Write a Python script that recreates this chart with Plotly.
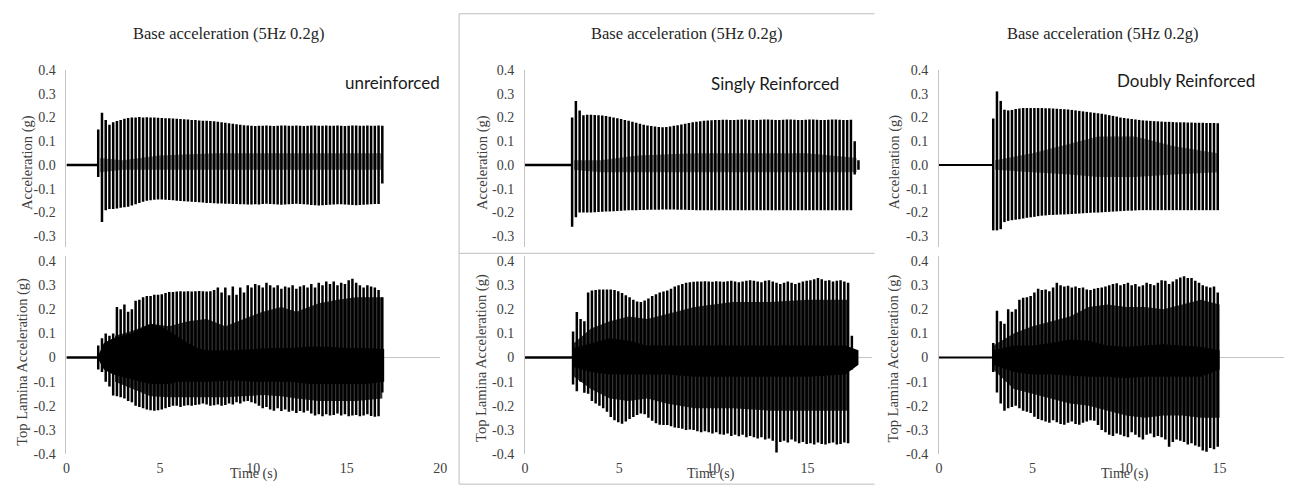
import plotly.graph_objects as go

FIG_W, FIG_H = 1291, 496
FREQ_HZ = 5.0  # shaking frequency: one stroke per loading cycle

# ---------------- Unreinforced ----------------
unr_base_start = 1.7
unr_base_hi = [0.15, 0.22, 0.19, 0.17, 0.18, 0.185, 0.19, 0.195, 0.198, 0.2,
               0.2, 0.202, 0.2, 0.201, 0.2, 0.2, 0.199, 0.198, 0.197, 0.197,
               0.196, 0.195, 0.194, 0.193, 0.192, 0.19, 0.19, 0.188, 0.187, 0.186,
               0.185, 0.184, 0.182, 0.18, 0.178, 0.176, 0.174, 0.172, 0.17, 0.168,
               0.166, 0.165, 0.164, 0.165, 0.165, 0.166, 0.165, 0.164, 0.165, 0.166,
               0.166, 0.165, 0.165, 0.166, 0.165, 0.164, 0.165, 0.166, 0.166, 0.165,
               0.165, 0.166, 0.165, 0.165, 0.166, 0.165, 0.164, 0.165, 0.166, 0.166,
               0.165, 0.165, 0.166, 0.165, 0.165, 0.166, 0.165]
unr_base_lo = [-0.05, -0.24, -0.19, -0.185, -0.185, -0.183, -0.18, -0.178, -0.175, -0.17,
               -0.165, -0.16, -0.155, -0.15, -0.148, -0.146, -0.145, -0.145, -0.146, -0.147,
               -0.148, -0.15, -0.151, -0.152, -0.153, -0.155, -0.156, -0.157, -0.158, -0.16,
               -0.16, -0.161, -0.162, -0.162, -0.163, -0.163, -0.164, -0.164, -0.165, -0.165,
               -0.166, -0.166, -0.165, -0.166, -0.164, -0.163, -0.164, -0.165, -0.166, -0.167,
               -0.166, -0.165, -0.164, -0.163, -0.164, -0.165, -0.166, -0.168, -0.169, -0.17,
               -0.169, -0.168, -0.167, -0.166, -0.165, -0.165, -0.166, -0.167, -0.168, -0.169,
               -0.168, -0.167, -0.166, -0.165, -0.164, -0.164, -0.078]
unr_base_core_t = [1.8, 3.0, 5.0, 8.0, 12.0, 16.9]
unr_base_core_hi = [0.03, 0.02, 0.04, 0.05, 0.05, 0.05]
unr_base_core_lo = [-0.03, -0.02, -0.02, -0.02, -0.02, -0.02]

unr_top_start = 1.7
unr_top_hi = [0.05, 0.08, 0.1, 0.09, 0.1, 0.21, 0.2, 0.22, 0.19, 0.2,
              0.235, 0.24, 0.25, 0.255, 0.255, 0.26, 0.26, 0.262, 0.268, 0.272,
              0.272, 0.274, 0.275, 0.274, 0.275, 0.274, 0.275, 0.276, 0.275, 0.274,
              0.275, 0.28, 0.29, 0.27, 0.29, 0.258, 0.295, 0.26, 0.29, 0.27,
              0.3, 0.29, 0.305, 0.3, 0.29, 0.31, 0.3, 0.29, 0.3, 0.285,
              0.295, 0.29, 0.3, 0.285, 0.295, 0.3, 0.29, 0.305, 0.29, 0.31,
              0.3, 0.315, 0.305, 0.315, 0.3, 0.31, 0.305, 0.32, 0.327, 0.31,
              0.3, 0.29, 0.3, 0.295, 0.29, 0.28, 0.25]
unr_top_lo = [-0.05, -0.06, -0.1, -0.12, -0.157, -0.16, -0.165, -0.17, -0.18, -0.185,
              -0.2, -0.205, -0.21, -0.215, -0.218, -0.22, -0.218, -0.215, -0.21, -0.205,
              -0.2, -0.2, -0.205, -0.2, -0.198, -0.2, -0.197, -0.195, -0.19, -0.195,
              -0.2, -0.198, -0.195, -0.2, -0.197, -0.19, -0.195, -0.185, -0.19, -0.182,
              -0.18, -0.185, -0.19, -0.2, -0.21, -0.205, -0.215, -0.22, -0.21, -0.222,
              -0.215, -0.225, -0.22, -0.23, -0.222, -0.228, -0.22, -0.232, -0.24, -0.235,
              -0.243, -0.235, -0.24, -0.238, -0.232, -0.24, -0.235, -0.243, -0.24, -0.238,
              -0.243, -0.24, -0.235, -0.242, -0.245, -0.243, -0.145]
unr_top_core_t = [1.65, 2.0, 2.5, 3.0, 3.5, 4.0, 4.5, 5.0, 5.5, 6.0, 6.5, 7.0,
                  7.5, 8.0, 9.0, 10.0, 11.0, 12.0, 13.0, 14.0, 15.0, 16.0, 17.0]
unr_top_core_hi = [0.0, 0.06, 0.08, 0.09, 0.1, 0.12, 0.14, 0.13, 0.11, 0.085, 0.06, 0.04,
                   0.03, 0.03, 0.03, 0.035, 0.04, 0.04, 0.045, 0.045, 0.04, 0.04, 0.035]
unr_top_core_lo = [0.0, -0.05, -0.07, -0.08, -0.09, -0.1, -0.11, -0.11, -0.11, -0.1, -0.1, -0.1,
                   -0.1, -0.1, -0.095, -0.1, -0.1, -0.1, -0.11, -0.11, -0.11, -0.11, -0.1]
unr_top_mid_t = [2.6, 3.5, 4.5, 5.5, 6.5, 7.5, 8.5, 9.5, 10.5, 11.5, 12.3, 13.5, 14.5, 15.5, 16.9]
unr_top_mid_hi = [0.09, 0.11, 0.14, 0.13, 0.15, 0.16, 0.13, 0.16, 0.19, 0.21, 0.19, 0.225, 0.24, 0.25, 0.25]
unr_top_mid_lo = [-0.1, -0.13, -0.16, -0.165, -0.165, -0.165, -0.165, -0.16, -0.155, -0.16,
                  -0.17, -0.18, -0.18, -0.18, -0.17]

# ---------------- Singly reinforced ----------------
sgl_base_start = 2.5
sgl_base_hi = [0.2, 0.27, 0.23, 0.21, 0.212, 0.212, 0.211, 0.21, 0.209, 0.206,
               0.203, 0.2, 0.197, 0.194, 0.19, 0.186, 0.182, 0.178, 0.174, 0.17,
               0.167, 0.164, 0.162, 0.16, 0.159, 0.16, 0.162, 0.165, 0.168, 0.171,
               0.174, 0.177, 0.18, 0.182, 0.184, 0.186, 0.188, 0.189, 0.19, 0.19,
               0.191, 0.191, 0.19, 0.19, 0.191, 0.192, 0.192, 0.191, 0.19, 0.19,
               0.191, 0.192, 0.192, 0.191, 0.19, 0.19, 0.191, 0.192, 0.192, 0.191,
               0.19, 0.19, 0.191, 0.192, 0.192, 0.191, 0.19, 0.19, 0.191, 0.192,
               0.192, 0.191, 0.19, 0.19, 0.191, 0.1, 0.02]
sgl_base_lo = [-0.26, -0.22, -0.2, -0.2, -0.2, -0.2, -0.199, -0.198, -0.197, -0.196,
               -0.195, -0.194, -0.193, -0.192, -0.191, -0.19, -0.19, -0.19, -0.189, -0.189,
               -0.188, -0.188, -0.188, -0.188, -0.187, -0.187, -0.187, -0.187, -0.188, -0.188,
               -0.188, -0.189, -0.189, -0.19, -0.19, -0.19, -0.19, -0.19, -0.19, -0.19,
               -0.19, -0.19, -0.19, -0.19, -0.19, -0.19, -0.19, -0.19, -0.19, -0.19,
               -0.19, -0.19, -0.19, -0.19, -0.19, -0.19, -0.19, -0.19, -0.19, -0.19,
               -0.19, -0.19, -0.19, -0.19, -0.19, -0.19, -0.19, -0.19, -0.19, -0.19,
               -0.19, -0.19, -0.19, -0.19, -0.19, -0.04, -0.02]
sgl_base_core_t = [2.6, 4.0, 6.0, 9.0, 12.0, 15.0, 17.6]
sgl_base_core_hi = [0.02, 0.02, 0.04, 0.05, 0.05, 0.05, 0.03]
sgl_base_core_lo = [-0.02, -0.03, -0.03, -0.03, -0.03, -0.03, -0.03]

sgl_top_start = 2.55
sgl_top_hi = [0.108, 0.189, 0.16, 0.15, 0.27, 0.278, 0.28, 0.282, 0.282, 0.282,
              0.282, 0.28, 0.275, 0.268, 0.258, 0.25, 0.24, 0.232, 0.23, 0.236,
              0.245, 0.255, 0.262, 0.27, 0.274, 0.278, 0.285, 0.295, 0.3, 0.305,
              0.31, 0.312, 0.314, 0.315, 0.315, 0.316, 0.315, 0.314, 0.316, 0.315,
              0.314, 0.316, 0.318, 0.315, 0.312, 0.315, 0.318, 0.32, 0.318, 0.315,
              0.312, 0.318, 0.32, 0.315, 0.31, 0.305, 0.31, 0.315, 0.31, 0.305,
              0.31, 0.315, 0.318, 0.32, 0.325, 0.33, 0.325, 0.318, 0.32, 0.315,
              0.318, 0.32, 0.315, 0.31, 0.09, 0.03]
sgl_top_lo = [-0.112, -0.14, -0.1, -0.146, -0.15, -0.18, -0.19, -0.2, -0.21, -0.225,
              -0.246, -0.26, -0.268, -0.274, -0.265, -0.255, -0.246, -0.238, -0.232, -0.235,
              -0.25, -0.262, -0.272, -0.278, -0.28, -0.28, -0.285, -0.29, -0.292, -0.295,
              -0.3, -0.298, -0.3, -0.305, -0.31, -0.305, -0.31, -0.315, -0.31, -0.318,
              -0.32, -0.315, -0.325, -0.32, -0.326, -0.32, -0.33, -0.325, -0.33, -0.335,
              -0.33, -0.34, -0.335, -0.345, -0.394, -0.35, -0.345, -0.352, -0.34, -0.348,
              -0.355, -0.35, -0.358, -0.355, -0.36, -0.352, -0.358, -0.36, -0.355, -0.352,
              -0.36, -0.358, -0.352, -0.355, -0.05, -0.03]
sgl_top_core_t = [2.6, 3.5, 4.5, 5.5, 6.5, 7.5, 9.0, 11.0, 13.0, 15.0, 17.0, 17.7]
sgl_top_core_hi = [0.04, 0.06, 0.08, 0.07, 0.05, 0.05, 0.05, 0.05, 0.05, 0.05, 0.05, 0.03]
sgl_top_core_lo = [-0.04, -0.06, -0.07, -0.07, -0.07, -0.07, -0.08, -0.08, -0.08, -0.08, -0.07, -0.03]
sgl_top_mid_t = [2.6, 3.5, 4.5, 5.5, 6.5, 7.5, 9.0, 11.0, 13.0, 15.0, 17.2]
sgl_top_mid_hi = [0.06, 0.12, 0.15, 0.17, 0.16, 0.18, 0.21, 0.23, 0.23, 0.24, 0.24]
sgl_top_mid_lo = [-0.08, -0.13, -0.17, -0.18, -0.17, -0.19, -0.21, -0.21, -0.22, -0.22, -0.22]

# ---------------- Doubly reinforced ----------------
dbl_base_start = 2.9
dbl_base_hi = [0.196, 0.31, 0.27, 0.233, 0.23, 0.232, 0.236, 0.238, 0.24, 0.24,
               0.24, 0.24, 0.24, 0.24, 0.239, 0.239, 0.238, 0.237, 0.236, 0.235,
               0.234, 0.232, 0.23, 0.228, 0.226, 0.224, 0.222, 0.22, 0.218, 0.216,
               0.213, 0.21, 0.207, 0.204, 0.2, 0.198, 0.196, 0.194, 0.192, 0.19,
               0.188, 0.187, 0.186, 0.185, 0.184, 0.183, 0.182, 0.182, 0.181, 0.18,
               0.18, 0.18, 0.179, 0.179, 0.178, 0.178, 0.178, 0.177, 0.177, 0.177,
               0.176]
dbl_base_lo = [-0.275, -0.275, -0.27, -0.24, -0.235, -0.232, -0.23, -0.228, -0.225, -0.222,
               -0.22, -0.218, -0.215, -0.213, -0.212, -0.21, -0.21, -0.209, -0.208, -0.208,
               -0.207, -0.206, -0.205, -0.204, -0.203, -0.202, -0.201, -0.2, -0.2, -0.199,
               -0.198, -0.197, -0.196, -0.195, -0.194, -0.193, -0.192, -0.192, -0.191, -0.19,
               -0.19, -0.19, -0.19, -0.19, -0.19, -0.19, -0.19, -0.19, -0.19, -0.19,
               -0.19, -0.19, -0.19, -0.19, -0.19, -0.19, -0.19, -0.19, -0.19, -0.19,
               -0.19]
dbl_base_core_t = [3.0, 5.0, 7.0, 8.5, 10.5, 12.5, 14.9]
dbl_base_core_hi = [0.02, 0.05, 0.09, 0.12, 0.12, 0.08, 0.05]
dbl_base_core_lo = [-0.02, -0.03, -0.04, -0.05, -0.05, -0.04, -0.03]

dbl_top_start = 2.9
dbl_top_hi = [0.06, 0.194, 0.15, 0.14, 0.2, 0.19, 0.2, 0.24, 0.248, 0.25,
              0.255, 0.27, 0.285, 0.28, 0.282, 0.275, 0.29, 0.31, 0.3, 0.295,
              0.298, 0.29, 0.295, 0.288, 0.29, 0.282, 0.28, 0.285, 0.288, 0.29,
              0.295, 0.3, 0.305, 0.308, 0.3, 0.305, 0.31, 0.3, 0.305, 0.295,
              0.3, 0.31, 0.305, 0.3, 0.31, 0.32, 0.318, 0.305, 0.315, 0.325,
              0.332, 0.337, 0.33, 0.33, 0.318, 0.31, 0.3, 0.295, 0.29, 0.295,
              0.27]
dbl_top_lo = [-0.06, -0.145, -0.19, -0.22, -0.21, -0.205, -0.2, -0.21, -0.22, -0.225,
              -0.23, -0.245, -0.255, -0.26, -0.265, -0.27, -0.26, -0.268, -0.275, -0.278,
              -0.27, -0.265, -0.275, -0.278, -0.27, -0.265, -0.26, -0.262, -0.28, -0.3,
              -0.31, -0.32, -0.325, -0.315, -0.32, -0.326, -0.33, -0.31, -0.32, -0.33,
              -0.34, -0.32, -0.315, -0.33, -0.325, -0.33, -0.34, -0.37, -0.35, -0.34,
              -0.345, -0.35, -0.36, -0.355, -0.365, -0.37, -0.385, -0.39, -0.375, -0.38,
              -0.37]
dbl_top_core_t = [2.9, 4.0, 5.0, 6.0, 7.0, 8.0, 9.0, 10.0, 11.0, 12.0, 13.0, 14.0, 15.0]
dbl_top_core_hi = [0.03, 0.05, 0.05, 0.06, 0.075, 0.07, 0.05, 0.045, 0.05, 0.055, 0.05, 0.045, 0.03]
dbl_top_core_lo = [-0.03, -0.06, -0.07, -0.07, -0.075, -0.08, -0.08, -0.085, -0.08, -0.08, -0.08, -0.08, -0.05]
dbl_top_mid_t = [2.9, 4.0, 5.0, 6.0, 7.0, 8.0, 9.0, 10.0, 11.0, 12.0, 13.0, 14.0, 15.0]
dbl_top_mid_hi = [0.05, 0.1, 0.13, 0.15, 0.17, 0.21, 0.22, 0.21, 0.21, 0.2, 0.22, 0.24, 0.22]
dbl_top_mid_lo = [-0.05, -0.13, -0.15, -0.17, -0.19, -0.2, -0.22, -0.24, -0.25, -0.24, -0.24, -0.25, -0.25]

# ---------------- axis text ----------------
base_title = "Base acceleration (5Hz 0.2g)"
specimen_names = ["unreinforced", "Singly Reinforced", "Doubly Reinforced"]
base_ytitle = "Acceleration (g)"
top_ytitle = "Top Lamina Acceleration (g)"
x_title = "Time (s)"
base_yticks = [0.4, 0.3, 0.2, 0.1, 0.0, -0.1, -0.2, -0.3]
base_yticklabels = ["0.4", "0.3", "0.2", "0.1", "0.0", "-0.1", "-0.2", "-0.3"]
top_yticks = [0.4, 0.3, 0.2, 0.1, 0.0, -0.1, -0.2, -0.3, -0.4]
top_yticklabels = ["0.4", "0.3", "0.2", "0.1", "0", "-0.1", "-0.2", "-0.3", "-0.4"]
x_ticks_wide = [0, 5, 10, 15, 20]
x_ticks_narrow = [0, 5, 10, 15]

# ---------------- layout geometry (pixels) ----------------
col_px = [(63, 440), (525.5, 875), (943, 1291)]
col_xrange = [(0, 20), (0, 349.5 / 19.0), (0, 348 / 18.87)]
row_px = {"base": (65, 247.5), "top": (257, 461)}
row_yrange = {"base": (-0.345, 0.4), "top": (-0.4, 0.42)}


def px_x(px):
    return px / FIG_W


def px_y(py):
    return 1 - py / FIG_H


def cycle_strokes(start, hi, lo):
    xs, ys = [], []
    for k, (h, l) in enumerate(zip(hi, lo)):
        t = start + k / FREQ_HZ
        xs += [t, t, None]
        ys += [l, h, None]
    return xs, ys


def band(t, hi, lo):
    return list(t) + list(t)[::-1], list(hi) + list(lo)[::-1]


panels = [
    dict(col=0, row="base", start=unr_base_start, hi=unr_base_hi, lo=unr_base_lo,
         core=(unr_base_core_t, unr_base_core_hi, unr_base_core_lo), mid=None, pre_w=2.5),
    dict(col=1, row="base", start=sgl_base_start, hi=sgl_base_hi, lo=sgl_base_lo,
         core=(sgl_base_core_t, sgl_base_core_hi, sgl_base_core_lo), mid=None, pre_w=2.5),
    dict(col=2, row="base", start=dbl_base_start, hi=dbl_base_hi, lo=dbl_base_lo,
         core=(dbl_base_core_t, dbl_base_core_hi, dbl_base_core_lo), mid=None, pre_w=2.0),
    dict(col=0, row="top", start=unr_top_start, hi=unr_top_hi, lo=unr_top_lo,
         core=(unr_top_core_t, unr_top_core_hi, unr_top_core_lo),
         mid=(unr_top_mid_t, unr_top_mid_hi, unr_top_mid_lo), pre_w=2.5),
    dict(col=1, row="top", start=sgl_top_start, hi=sgl_top_hi, lo=sgl_top_lo,
         core=(sgl_top_core_t, sgl_top_core_hi, sgl_top_core_lo),
         mid=(sgl_top_mid_t, sgl_top_mid_hi, sgl_top_mid_lo), pre_w=2.5),
    dict(col=2, row="top", start=dbl_top_start, hi=dbl_top_hi, lo=dbl_top_lo,
         core=(dbl_top_core_t, dbl_top_core_hi, dbl_top_core_lo),
         mid=(dbl_top_mid_t, dbl_top_mid_hi, dbl_top_mid_lo), pre_w=2.0),
]

fig = go.Figure()
layout_axes = {}
serif = "Liberation Serif, Times New Roman, serif"
tick_font = dict(family=serif, size=14, color="#404040")
axis_grey = "#c4c4c4"

for i, p in enumerate(panels, start=1):
    xa, ya = f"x{i}", f"y{i}"
    sfx = "" if i == 1 else str(i)
    c, r = p["col"], p["row"]
    x0, x1 = col_px[c]
    ytop, ybot = row_px[r]
    is_top = r == "top"

    layout_axes[f"xaxis{sfx}"] = dict(
        domain=[px_x(x0), px_x(x1)], range=list(col_xrange[c]), anchor=ya,
        visible=is_top, showline=False, showgrid=False, zeroline=False,
        ticks="", tickvals=x_ticks_wide if c == 0 else x_ticks_narrow,
        tickfont=tick_font, ticklabelstandoff=4, fixedrange=True,
    )
    layout_axes[f"yaxis{sfx}"] = dict(
        domain=[px_y(ybot), px_y(ytop)], range=list(row_yrange[r]), anchor=xa,
        showline=True, linecolor=axis_grey, linewidth=1, showgrid=False,
        zeroline=is_top, zerolinecolor=axis_grey, zerolinewidth=1,
        ticks="", tickvals=top_yticks if is_top else base_yticks,
        ticktext=top_yticklabels if is_top else base_yticklabels,
        tickfont=tick_font, ticklabelstandoff=7, fixedrange=True,
    )

    # flat record before shaking starts
    fig.add_trace(go.Scatter(x=[0, p["start"]], y=[0, 0], xaxis=xa, yaxis=ya,
                             mode="lines", line=dict(color="black", width=p["pre_w"]),
                             hoverinfo="skip"))
    if p["mid"] is not None:
        bx, by = band(*p["mid"])
        fig.add_trace(go.Scatter(x=bx, y=by, xaxis=xa, yaxis=ya, mode="lines",
                                 fill="toself", fillcolor="rgba(0,0,0,0.8)",
                                 line=dict(width=0), hoverinfo="skip"))
    sx, sy = cycle_strokes(p["start"], p["hi"], p["lo"])
    fig.add_trace(go.Scatter(x=sx, y=sy, xaxis=xa, yaxis=ya, mode="lines",
                             line=dict(color="black", width=2.5), hoverinfo="skip"))
    cx, cy = band(*p["core"])
    core_fill = "rgba(0,0,0,1)" if is_top else "rgba(0,0,0,0.5)"
    fig.add_trace(go.Scatter(x=cx, y=cy, xaxis=xa, yaxis=ya, mode="lines",
                             fill="toself", fillcolor=core_fill,
                             line=dict(width=0), hoverinfo="skip"))

annotations = []


def label(text, px, py, size, family=serif, color="#262626", angle=0):
    annotations.append(dict(
        text=text, x=px_x(px), y=px_y(py), xref="paper", yref="paper",
        xanchor="center", yanchor="middle", showarrow=False, textangle=angle,
        font=dict(family=family, size=size, color=color)))


for cx_ in (227, 689, 1108):
    label(base_title, cx_, 27, 16.5)
for name, (nx, ny) in zip(specimen_names, [(392, 78), (778, 79), (1192, 76)]):
    label(name, nx, ny, 17, family="Lato, Open Sans, sans-serif", color="#1a1a1a")
for yx in (23, 482, 898):
    label(base_ytitle, yx, 160, 14.5, color="#404040", angle=-90)
for yx, yy in ((19, 366), (481, 362), (897, 362)):
    label(top_ytitle, yx, yy, 14.5, color="#404040", angle=-90)
for tx in (252, 713, 1131):
    label(x_title, tx, 482, 14, color="#404040")

# frame around the middle pair of plots
frame_grey = "#bdbdbd"
shapes = []
for (xa_, ya_, xb_, yb_) in [(459, 7, 878, 7), (459, 7, 459, 492),
                             (459, 492, 878, 492), (459, 254, 878, 254)]:
    shapes.append(dict(type="line", xref="paper", yref="paper",
                       x0=px_x(xa_), y0=px_y(ya_), x1=px_x(xb_), y1=px_y(yb_),
                       line=dict(color=frame_grey, width=1)))

fig.update_layout(
    width=FIG_W, height=FIG_H, margin=dict(l=0, r=0, t=0, b=0),
    paper_bgcolor="white", plot_bgcolor="white", showlegend=False,
    annotations=annotations, shapes=shapes, hovermode=False,
    **layout_axes,
)

fig.write_html("out.html", config={"displayModeBar": False, "staticPlot": True})
